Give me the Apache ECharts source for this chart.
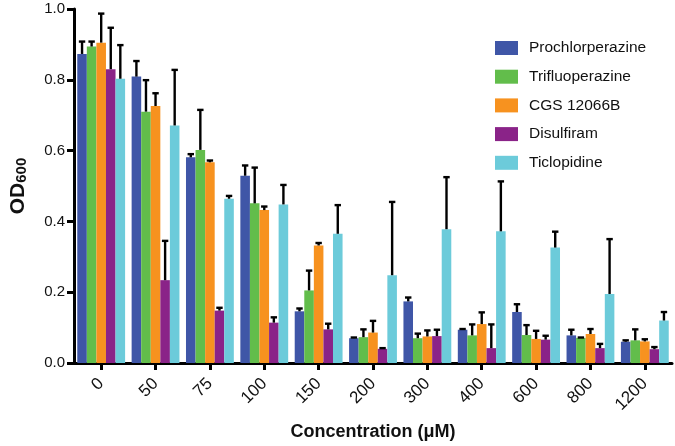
<!doctype html>
<html lang="en">
<head>
    <meta charset="UTF-8">
    <title>OD600 vs concentration</title>
    <script src="https://cdn.jsdelivr.net/npm/echarts@6/dist/echarts.min.js"></script>
    <style>
        html, body { margin: 0; padding: 0; background: #fff; }
        #chart { width: 675px; height: 446px; }
    </style>
</head>
<body>
<div id="chart"></div>
<script>
    // concentrations (uM)
    var concentrations = ['0', '50', '75', '100', '150', '200', '300', '400', '600', '800', '1200'];
    var yTicks = [0, 0.2, 0.4, 0.6, 0.8, 1.0];

    var drugNames = ['Prochlorperazine', 'Trifluoperazine', 'CGS 12066B', 'Disulfiram', 'Ticlopidine'];
    var drugColors = ['#3F56A7', '#62BD4B', '#F7921F', '#8A2388', '#6CCBDA'];

    // mean OD600
    var prochlorperazine = [0.873, 0.809, 0.581, 0.529, 0.146, 0.070, 0.174, 0.094, 0.144, 0.078, 0.060];
    var trifluoperazine  = [0.894, 0.710, 0.602, 0.451, 0.205, 0.073, 0.070, 0.078, 0.079, 0.071, 0.064];
    var cgs12066b        = [0.905, 0.726, 0.567, 0.432, 0.332, 0.086, 0.075, 0.110, 0.068, 0.082, 0.061];
    var disulfiram       = [0.830, 0.234, 0.148, 0.114, 0.095, 0.040, 0.076, 0.042, 0.066, 0.042, 0.039];
    var ticlopidine      = [0.803, 0.671, 0.464, 0.448, 0.365, 0.248, 0.378, 0.372, 0.326, 0.195, 0.120];

    // SD (upper error bar only)
    var prochlorperazineSd = [0.035, 0.044, 0.009, 0.029, 0.008, 0.002, 0.011, 0.002, 0.022, 0.016, 0.004];
    var trifluoperazineSd  = [0.014, 0.089, 0.113, 0.101, 0.056, 0.022, 0.013, 0.031, 0.028, 0.001, 0.031];
    var cgs12066bSd        = [0.082, 0.036, 0.005, 0.010, 0.007, 0.033, 0.017, 0.033, 0.023, 0.014, 0.006];
    var disulfiramSd       = [0.117, 0.111, 0.008, 0.015, 0.016, 0.002, 0.018, 0.067, 0.011, 0.012, 0.006];
    var ticlopidineSd      = [0.095, 0.157, 0.008, 0.055, 0.081, 0.207, 0.147, 0.141, 0.045, 0.155, 0.024];

    var means = [prochlorperazine, trifluoperazine, cgs12066b, disulfiram, ticlopidine];
    var sds = [prochlorperazineSd, trifluoperazineSd, cgs12066bSd, disulfiramSd, ticlopidineSd];

    var CAT_GAP = 0.12;
    var nSeries = drugNames.length;

    // upper error bar with a T cap, placed over the matching bar
    function errorRender(seriesIdx) {
        return function (params, api) {
            var cat = api.value(0);
            var base = api.coord([cat, api.value(1)]);
            var top = api.coord([cat, api.value(2)]);
            var bandW = api.size([1, 0])[0];
            var barW = bandW * (1 - CAT_GAP) / nSeries;
            var x = base[0] - bandW * (1 - CAT_GAP) / 2 + barW * (seriesIdx + 0.5);
            var style = { stroke: '#000', lineWidth: 2.4 };
            return {
                type: 'group',
                children: [
                    { type: 'line', shape: { x1: x, y1: base[1], x2: x, y2: top[1] }, style: style },
                    { type: 'line', shape: { x1: x - 3.2, y1: top[1], x2: x + 3.2, y2: top[1] }, style: style }
                ]
            };
        };
    }

    var series = [];
    for (var i = 0; i < nSeries; i++) {
        series.push({
            name: drugNames[i],
            type: 'bar',
            data: means[i],
            barGap: '0%',
            barCategoryGap: (CAT_GAP * 100) + '%',
            itemStyle: { color: drugColors[i] },
            z: 2
        });
    }
    for (var j = 0; j < nSeries; j++) {
        var errData = [];
        for (var k = 0; k < concentrations.length; k++) {
            errData.push([k, means[j][k], means[j][k] + sds[j][k]]);
        }
        series.push({
            type: 'custom',
            renderItem: errorRender(j),
            data: errData,
            encode: { x: 0, y: [1, 2] },
            silent: true,
            z: 3
        });
    }

    var chart = echarts.init(document.getElementById('chart'), null, { renderer: 'canvas' });
    chart.setOption({
        animation: false,
        backgroundColor: '#fff',
        textStyle: { fontFamily: 'Liberation Sans, Arial, sans-serif' },
        grid: { left: 71, right: 3, top: 9, bottom: 82 },
        legend: {
            data: drugNames,
            orient: 'vertical',
            left: 490,
            top: 35,
            itemWidth: 23,
            itemHeight: 14,
            itemGap: 12.7,
            icon: 'rect',
            textStyle: { fontSize: 15.5, color: '#111', padding: [0, 0, 0, 6] }
        },
        xAxis: {
            type: 'category',
            data: concentrations,
            name: 'Concentration (μM)',
            nameLocation: 'middle',
            nameGap: 60,
            nameTextStyle: { fontSize: 18, fontWeight: 'bold', color: '#111' },
            axisLine: { lineStyle: { color: '#000', width: 3 } },
            axisTick: { show: true, alignWithLabel: true, length: 7, lineStyle: { color: '#000', width: 3 } },
            axisLabel: { rotate: 45, fontSize: 17, color: '#111', margin: 18 }
        },
        yAxis: {
            type: 'value',
            min: 0,
            max: 1.0,
            interval: 0.2,
            name: '{a|OD}{b|600}',
            nameLocation: 'middle',
            nameGap: 45,
            nameRotate: 90,
            nameTextStyle: {
                rich: {
                    a: { fontSize: 21, fontWeight: 'bold', color: '#111', lineHeight: 21 },
                    b: { fontSize: 15, fontWeight: 'bold', color: '#111', lineHeight: 15, verticalAlign: 'bottom' }
                }
            },
            splitLine: { show: false },
            axisLine: { show: true, lineStyle: { color: '#000', width: 3 } },
            axisTick: { show: true, length: 7, lineStyle: { color: '#000', width: 3 } },
            axisLabel: {
                fontSize: 15, color: '#111', margin: 9,
                formatter: function (v) { return yTicks.indexOf(Math.round(v * 10) / 10) >= 0 ? v.toFixed(1) : ''; }
            }
        },
        series: series
    });
</script>
</body>
</html>
